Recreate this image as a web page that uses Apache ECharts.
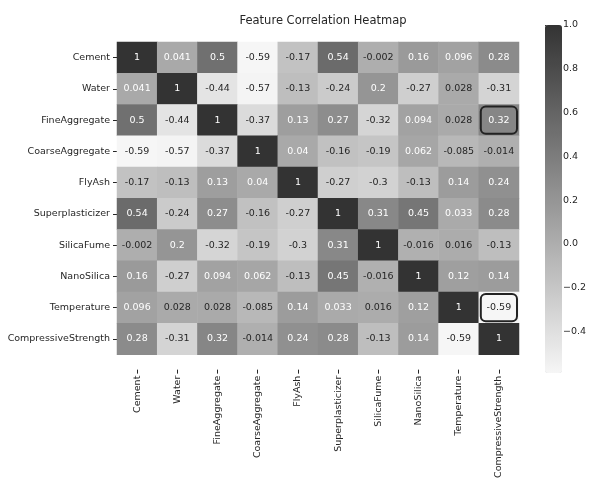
<!DOCTYPE html>
<html>
<head>
<meta charset="utf-8">
<script src="https://cdn.jsdelivr.net/npm/echarts@6/dist/echarts.min.js"></script>
<style>
  html, body { margin: 0; padding: 0; background: #ffffff; }
  #chart { width: 589px; height: 481px; }
</style>
</head>
<body>
<div id="chart"></div>
<script>
// Feature names (rows top-to-bottom, columns left-to-right)
const features = [
  'Cement', 'Water', 'FineAggregate', 'CoarseAggregate', 'FlyAsh',
  'Superplasticizer', 'SilicaFume', 'NanoSilica', 'Temperature', 'CompressiveStrength'
];

// Pearson correlation rows, one per feature
const rowCement              = [1, 0.041, 0.5, -0.59, -0.17, 0.54, -0.002, 0.16, 0.096, 0.28];
const rowWater               = [0.041, 1, -0.44, -0.57, -0.13, -0.24, 0.2, -0.27, 0.028, -0.31];
const rowFineAggregate       = [0.5, -0.44, 1, -0.37, 0.13, 0.27, -0.32, 0.094, 0.028, 0.32];
const rowCoarseAggregate     = [-0.59, -0.57, -0.37, 1, 0.04, -0.16, -0.19, 0.062, -0.085, -0.014];
const rowFlyAsh              = [-0.17, -0.13, 0.13, 0.04, 1, -0.27, -0.3, -0.13, 0.14, 0.24];
const rowSuperplasticizer    = [0.54, -0.24, 0.27, -0.16, -0.27, 1, 0.31, 0.45, 0.033, 0.28];
const rowSilicaFume          = [-0.002, 0.2, -0.32, -0.19, -0.3, 0.31, 1, -0.016, 0.016, -0.13];
const rowNanoSilica          = [0.16, -0.27, 0.094, 0.062, -0.13, 0.45, -0.016, 1, 0.12, 0.14];
const rowTemperature         = [0.096, 0.028, 0.028, -0.085, 0.14, 0.033, 0.016, 0.12, 1, -0.59];
const rowCompressiveStrength = [0.28, -0.31, 0.32, -0.014, 0.24, 0.28, -0.13, 0.14, -0.59, 1];

const matrix = [
  rowCement, rowWater, rowFineAggregate, rowCoarseAggregate, rowFlyAsh,
  rowSuperplasticizer, rowSilicaFume, rowNanoSilica, rowTemperature, rowCompressiveStrength
];

// Cells outlined with a rounded frame: [column, row]
const highlightCells = [[9, 2], [9, 8]];

// Colour bar ticks
const colorbarTicks = [-0.4, -0.2, 0.0, 0.2, 0.4, 0.6, 0.8, 1.0];

const vMin = -0.59, vMax = 1.0;
const FONT = 'DejaVu Sans';

const heatData = [];
matrix.forEach((row, r) => {
  row.forEach((v, c) => {
    heatData.push({
      value: [c, r, v],
      label: { color: v > 0.03 ? '#ffffff' : '#262626' }
    });
  });
});

const chart = echarts.init(document.getElementById('chart'), null, { renderer: 'canvas' });

chart.setOption({
  backgroundColor: '#ffffff',
  animation: false,
  title: {
    text: 'Feature Correlation Heatmap',
    left: 318,
    textAlign: 'center',
    top: 10,
    textStyle: { fontFamily: FONT, fontSize: 11.5, fontWeight: 'normal', color: '#262626' }
  },
  grid: [
    { left: 117, top: 42, width: 402, height: 316, containLabel: false },
    { left: 545, top: 25, width: 17, height: 348, containLabel: false }
  ],
  xAxis: [
    {
      type: 'category',
      gridIndex: 0,
      data: features,
      position: 'bottom',
      offset: 15,
      axisLine: { show: false },
      axisTick: { show: true, alignWithLabel: true, length: 4, lineStyle: { color: '#262626', width: 1 } },
      axisLabel: {
        rotate: 90, margin: 6, interval: 0,
        fontFamily: FONT, fontSize: 9.5, color: '#262626'
      },
      splitLine: { show: false },
      splitArea: { show: false }
    },
    { type: 'value', gridIndex: 1, show: false, min: 0, max: 1 }
  ],
  yAxis: [
    {
      type: 'category',
      gridIndex: 0,
      data: features,
      inverse: true,
      axisLine: { show: false },
      axisTick: { show: true, alignWithLabel: true, length: 4, lineStyle: { color: '#262626', width: 1 } },
      axisLabel: {
        margin: 7, interval: 0,
        fontFamily: FONT, fontSize: 9.5, color: '#262626'
      },
      splitLine: { show: false },
      splitArea: { show: false }
    },
    {
      type: 'value',
      gridIndex: 1,
      position: 'right',
      min: vMin,
      max: vMax,
      axisLine: { show: false },
      splitLine: { show: false },
      axisTick: {
        show: true, length: 4, customValues: colorbarTicks,
        lineStyle: { color: '#262626', width: 1 }
      },
      axisLabel: {
        show: true, margin: 6, customValues: colorbarTicks,
        fontFamily: FONT, fontSize: 9.5, color: '#262626',
        formatter: v => (v < 0 ? '\u2212' : '') + Math.abs(v).toFixed(1)
      }
    }
  ],
  visualMap: {
    type: 'continuous',
    seriesIndex: 0,
    min: vMin,
    max: vMax,
    calculable: false,
    realtime: false,
    left: 545,
    top: 25,
    itemWidth: 17,
    itemHeight: 348,
    padding: 0,
    text: null,
    showLabel: false,
    hoverLink: false,
    inRange: { color: ['#f6f6f6', '#333333'] }
  },
  series: [
    {
      type: 'heatmap',
      xAxisIndex: 0,
      yAxisIndex: 0,
      data: heatData,
      itemStyle: { borderWidth: 0 },
      label: {
        show: true,
        fontFamily: FONT,
        fontSize: 9.5,
        formatter: p => String(p.value[2])
      },
      emphasis: { disabled: true }
    },
    {
      type: 'custom',
      xAxisIndex: 0,
      yAxisIndex: 0,
      data: highlightCells,
      z: 10,
      silent: true,
      renderItem: (params, api) => {
        const center = api.coord([api.value(0), api.value(1)]);
        const size = api.size([1, 1]);
        const inset = 2;
        return {
          type: 'rect',
          shape: {
            x: center[0] - size[0] / 2 + inset,
            y: center[1] - size[1] / 2 + inset,
            width: size[0] - inset * 2,
            height: size[1] - inset * 2,
            r: 5
          },
          style: { fill: 'none', stroke: '#222222', lineWidth: 2 }
        };
      }
    }
  ]
});
</script>
</body>
</html>
